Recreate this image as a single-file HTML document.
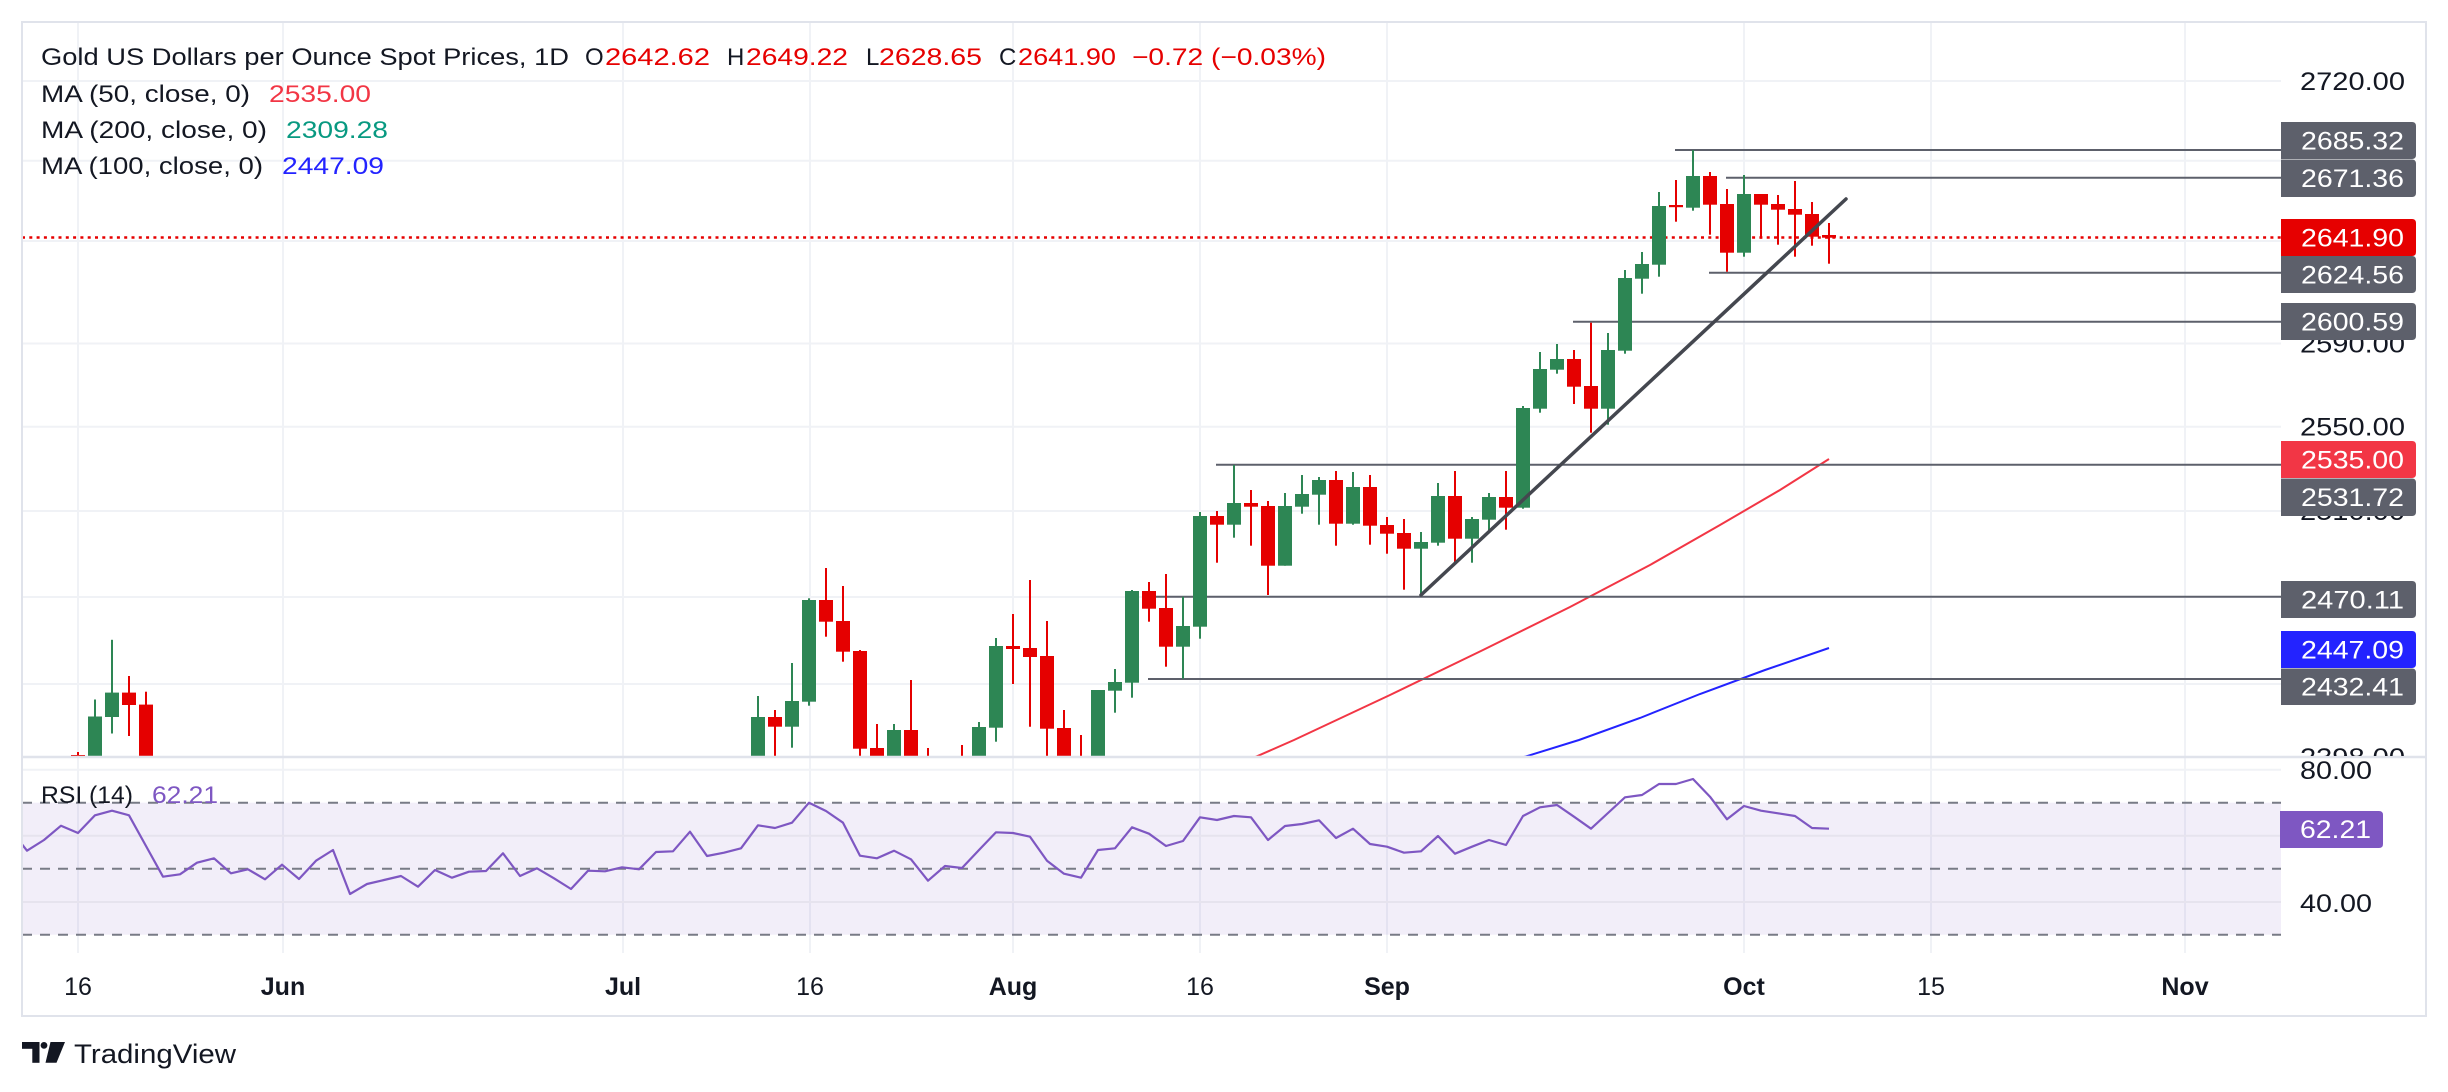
<!DOCTYPE html>
<html>
<head>
<meta charset="utf-8">
<style>
  html,body{margin:0;padding:0;background:#ffffff;}
  svg{display:block;}
  text{font-family:"Liberation Sans", Arial, sans-serif;}
</style>
</head>
<body>
<svg width="2448" height="1092" viewBox="0 0 2448 1092" xmlns="http://www.w3.org/2000/svg">
  <defs>
    <clipPath id="pricePane"><rect x="22" y="22" width="2259" height="735"/></clipPath>
    <clipPath id="rsiPane"><rect x="22" y="758" width="2259" height="195"/></clipPath>
    <clipPath id="axisTop"><rect x="2281" y="22" width="145" height="734"/></clipPath>
  </defs>
  <rect x="0" y="0" width="2448" height="1092" fill="#ffffff"/>

  <!-- vertical grid -->
  <g stroke="#f0f2f6" stroke-width="2">
    <line x1="78" y1="22" x2="78" y2="953"/>
    <line x1="283" y1="22" x2="283" y2="953"/>
    <line x1="623" y1="22" x2="623" y2="953"/>
    <line x1="810" y1="22" x2="810" y2="953"/>
    <line x1="1013" y1="22" x2="1013" y2="953"/>
    <line x1="1200" y1="22" x2="1200" y2="953"/>
    <line x1="1387" y1="22" x2="1387" y2="953"/>
    <line x1="1744" y1="22" x2="1744" y2="953"/>
    <line x1="1931" y1="22" x2="1931" y2="953"/>
    <line x1="2185" y1="22" x2="2185" y2="953"/>
  </g>
  <!-- horizontal grid price -->
  <g stroke="#f0f2f6" stroke-width="2">
    <line x1="22" y1="81" x2="2281" y2="81"/>
    <line x1="22" y1="160.7" x2="2281" y2="160.7"/>
    <line x1="22" y1="241" x2="2281" y2="241"/>
    <line x1="22" y1="343.5" x2="2281" y2="343.5"/>
    <line x1="22" y1="426.7" x2="2281" y2="426.7"/>
    <line x1="22" y1="511" x2="2281" y2="511"/>
    <line x1="22" y1="597" x2="2281" y2="597"/>
    <line x1="22" y1="684" x2="2281" y2="684"/>
  </g>

  <!-- RSI pane background band -->
  <rect x="22" y="802.7" width="2259" height="132" fill="#7e57c2" fill-opacity="0.1"/>
  <g stroke="#e6e3ee" stroke-width="2">
    <line x1="22" y1="769.7" x2="2281" y2="769.7" stroke="#f0f2f6"/>
    <line x1="22" y1="835.7" x2="2281" y2="835.7"/>
    <line x1="22" y1="902" x2="2281" y2="902"/>
  </g>
  <g stroke="#787b86" stroke-width="2" stroke-dasharray="10 8">
    <line x1="22" y1="802.7" x2="2281" y2="802.7"/>
    <line x1="22" y1="868.7" x2="2281" y2="868.7"/>
    <line x1="22" y1="934.7" x2="2281" y2="934.7"/>
  </g>

  <!-- PRICE PANE CONTENT -->
  <g clip-path="url(#pricePane)">
    <!-- dotted last price line -->
    <line x1="22" y1="237.5" x2="2281" y2="237.5" stroke="#e60000" stroke-width="2.5" stroke-dasharray="3 4.3"/>

    <!-- MA100 -->
    <polyline fill="none" stroke="#2323ff" stroke-width="2" points="1510,762 1524,757 1579,740 1640,718 1700,694 1765,670 1829,648"/>
    <!-- MA50 -->
    <polyline fill="none" stroke="#f23645" stroke-width="2" points="1240,764 1253,758 1294,740 1390,695 1483,650 1570,607 1650,565 1720,525 1780,490 1829,459"/>

    <!-- horizontal levels -->
    <g stroke="#5d606b" stroke-width="2">
      <line x1="1675" y1="150" x2="2281" y2="150"/>
      <line x1="1726" y1="177.7" x2="2281" y2="177.7"/>
      <line x1="1709" y1="272.7" x2="2281" y2="272.7"/>
      <line x1="1573" y1="321.7" x2="2281" y2="321.7"/>
      <line x1="1216" y1="464.7" x2="2281" y2="464.7"/>
      <line x1="1156" y1="596.7" x2="2281" y2="596.7"/>
      <line x1="1148" y1="679" x2="2281" y2="679"/>
    </g>

    <!-- green candles -->
    <g fill="#2d8654" stroke="#2d8654" stroke-width="2">
      <line x1="95" y1="699.5" x2="95" y2="800"/><rect x="88" y="716.5" width="14" height="83.5" stroke="none"/>
      <line x1="112" y1="639.8" x2="112" y2="733.5"/><rect x="105" y="692.6" width="14" height="24.4" stroke="none"/>
      <line x1="758" y1="696" x2="758" y2="800"/><rect x="751" y="717" width="14" height="83" stroke="none"/>
      <line x1="792" y1="663" x2="792" y2="747.7"/><rect x="785" y="701" width="14" height="25.7" stroke="none"/>
      <line x1="809" y1="598.3" x2="809" y2="705.7"/><rect x="802" y="600" width="14" height="101.7" stroke="none"/>
      <line x1="894" y1="724" x2="894" y2="800"/><rect x="887" y="730" width="14" height="70" stroke="none"/>
      <line x1="979" y1="722" x2="979" y2="800"/><rect x="972" y="727" width="14" height="73" stroke="none"/>
      <line x1="996" y1="638" x2="996" y2="741.7"/><rect x="989" y="646" width="14" height="81.7" stroke="none"/>
      <line x1="1098" y1="690" x2="1098" y2="800"/><rect x="1091" y="690" width="14" height="110" stroke="none"/>
      <line x1="1115" y1="669" x2="1115" y2="712.7"/><rect x="1108" y="682" width="14" height="8.7" stroke="none"/>
      <line x1="1132" y1="590" x2="1132" y2="697.7"/><rect x="1125" y="591" width="14" height="91.7" stroke="none"/>
      <line x1="1183" y1="596.7" x2="1183" y2="678.7"/><rect x="1176" y="626" width="14" height="20.7" stroke="none"/>
      <line x1="1200" y1="512" x2="1200" y2="638.7"/><rect x="1193" y="516" width="14" height="110.7" stroke="none"/>
      <line x1="1234" y1="465" x2="1234" y2="537.7"/><rect x="1227" y="503" width="14" height="21.7" stroke="none"/>
      <line x1="1285" y1="493" x2="1285" y2="565.7"/><rect x="1278" y="506" width="14" height="59.7" stroke="none"/>
      <line x1="1302" y1="475" x2="1302" y2="513.7"/><rect x="1295" y="494" width="14" height="12.7" stroke="none"/>
      <line x1="1319" y1="477" x2="1319" y2="524.7"/><rect x="1312" y="480" width="14" height="14.7" stroke="none"/>
      <line x1="1353" y1="472" x2="1353" y2="524.7"/><rect x="1346" y="487" width="14" height="36.7" stroke="none"/>
      <line x1="1421" y1="532" x2="1421" y2="595"/><rect x="1414" y="542" width="14" height="6.7" stroke="none"/>
      <line x1="1438" y1="483" x2="1438" y2="545.7"/><rect x="1431" y="496" width="14" height="46.7" stroke="none"/>
      <line x1="1472" y1="517" x2="1472" y2="562.7"/><rect x="1465" y="519" width="14" height="19.7" stroke="none"/>
      <line x1="1489" y1="493" x2="1489" y2="531.7"/><rect x="1482" y="497" width="14" height="22.7" stroke="none"/>
      <line x1="1523" y1="406" x2="1523" y2="508.7"/><rect x="1516" y="408" width="14" height="99.7" stroke="none"/>
      <line x1="1540" y1="352" x2="1540" y2="412.7"/><rect x="1533" y="369" width="14" height="39.7" stroke="none"/>
      <line x1="1557" y1="344" x2="1557" y2="373.7"/><rect x="1550" y="359" width="14" height="10.7" stroke="none"/>
      <line x1="1608" y1="333" x2="1608" y2="424.7"/><rect x="1601" y="350" width="14" height="58.7" stroke="none"/>
      <line x1="1625" y1="270" x2="1625" y2="353.7"/><rect x="1618" y="278" width="14" height="72.7" stroke="none"/>
      <line x1="1642" y1="252" x2="1642" y2="293.7"/><rect x="1635" y="264" width="14" height="14.7" stroke="none"/>
      <line x1="1659" y1="192" x2="1659" y2="276.7"/><rect x="1652" y="206" width="14" height="58.7" stroke="none"/>
      <line x1="1693" y1="150" x2="1693" y2="210.7"/><rect x="1686" y="176" width="14" height="31.7" stroke="none"/>
      <line x1="1744" y1="175" x2="1744" y2="256.7"/><rect x="1737" y="194" width="14" height="58.7" stroke="none"/>
    </g>

    <!-- red candles -->
    <g fill="#e50000" stroke="#e50000" stroke-width="2">
      <line x1="78" y1="752" x2="78" y2="800"/><rect x="71" y="755" width="14" height="45" stroke="none"/>
      <line x1="129" y1="676" x2="129" y2="736"/><rect x="122" y="692.6" width="14" height="12.4" stroke="none"/>
      <line x1="146" y1="691.7" x2="146" y2="800"/><rect x="139" y="704.6" width="14" height="95.4" stroke="none"/>
      <line x1="775" y1="710" x2="775" y2="800"/><rect x="768" y="717" width="14" height="9.7" stroke="none"/>
      <line x1="826" y1="568" x2="826" y2="636.7"/><rect x="819" y="600" width="14" height="21.7" stroke="none"/>
      <line x1="843" y1="586" x2="843" y2="661.7"/><rect x="836" y="621" width="14" height="30.7" stroke="none"/>
      <line x1="860" y1="650" x2="860" y2="800"/><rect x="853" y="651" width="14" height="97.7" stroke="none"/>
      <line x1="877" y1="724" x2="877" y2="800"/><rect x="870" y="748" width="14" height="52" stroke="none"/>
      <line x1="911" y1="680" x2="911" y2="800"/><rect x="904" y="730" width="14" height="70" stroke="none"/>
      <line x1="928" y1="748" x2="928" y2="800"/><rect x="921" y="757" width="14" height="43" stroke="none"/>
      <line x1="962" y1="745" x2="962" y2="800"/><rect x="955" y="760" width="14" height="40" stroke="none"/>
      <line x1="1013" y1="614" x2="1013" y2="684"/><rect x="1006" y="646" width="14" height="3" stroke="none"/>
      <line x1="1030" y1="580" x2="1030" y2="726.7"/><rect x="1023" y="648" width="14" height="9" stroke="none"/>
      <line x1="1047" y1="621" x2="1047" y2="800"/><rect x="1040" y="656" width="14" height="72.7" stroke="none"/>
      <line x1="1064" y1="710" x2="1064" y2="800"/><rect x="1057" y="728" width="14" height="72" stroke="none"/>
      <line x1="1081" y1="735" x2="1081" y2="800"/><rect x="1074" y="760" width="14" height="40" stroke="none"/>
      <line x1="1149" y1="582" x2="1149" y2="621.7"/><rect x="1142" y="591" width="14" height="17.7" stroke="none"/>
      <line x1="1166" y1="574" x2="1166" y2="666.7"/><rect x="1159" y="608" width="14" height="38.7" stroke="none"/>
      <line x1="1217" y1="511" x2="1217" y2="562.7"/><rect x="1210" y="516" width="14" height="8.7" stroke="none"/>
      <line x1="1251" y1="490" x2="1251" y2="545.7"/><rect x="1244" y="503" width="14" height="3.7" stroke="none"/>
      <line x1="1268" y1="501" x2="1268" y2="595"/><rect x="1261" y="506" width="14" height="59.7" stroke="none"/>
      <line x1="1336" y1="471" x2="1336" y2="545.7"/><rect x="1329" y="480" width="14" height="43.7" stroke="none"/>
      <line x1="1370" y1="475" x2="1370" y2="544.7"/><rect x="1363" y="487" width="14" height="38.7" stroke="none"/>
      <line x1="1387" y1="517" x2="1387" y2="553.7"/><rect x="1380" y="525" width="14" height="8.7" stroke="none"/>
      <line x1="1404" y1="519" x2="1404" y2="589.7"/><rect x="1397" y="533" width="14" height="15.7" stroke="none"/>
      <line x1="1455" y1="471" x2="1455" y2="562.7"/><rect x="1448" y="496" width="14" height="42.7" stroke="none"/>
      <line x1="1506" y1="471" x2="1506" y2="529.7"/><rect x="1499" y="497" width="14" height="10.7" stroke="none"/>
      <line x1="1574" y1="350" x2="1574" y2="404"/><rect x="1567" y="359" width="14" height="27.7" stroke="none"/>
      <line x1="1591" y1="322.7" x2="1591" y2="432.7"/><rect x="1584" y="386" width="14" height="22.7" stroke="none"/>
      <line x1="1676" y1="180" x2="1676" y2="221.7"/><rect x="1669" y="205" width="14" height="2.2" stroke="none"/>
      <line x1="1710" y1="172" x2="1710" y2="234.7"/><rect x="1703" y="176" width="14" height="28.7" stroke="none"/>
      <line x1="1727" y1="189" x2="1727" y2="271.7"/><rect x="1720" y="204" width="14" height="48.7" stroke="none"/>
      <line x1="1761" y1="194" x2="1761" y2="238.7"/><rect x="1754" y="194" width="14" height="10.7" stroke="none"/>
      <line x1="1778" y1="195" x2="1778" y2="244.7"/><rect x="1771" y="204" width="14" height="5.7" stroke="none"/>
      <line x1="1795" y1="181" x2="1795" y2="256.7"/><rect x="1788" y="209" width="14" height="5.7" stroke="none"/>
      <line x1="1812" y1="202" x2="1812" y2="245.7"/><rect x="1805" y="214" width="14" height="22.7" stroke="none"/>
      <line x1="1829" y1="223" x2="1829" y2="263.7"/><rect x="1822" y="235" width="14" height="2.7" stroke="none"/>
    </g>

    <!-- trendline -->
    <line x1="1421" y1="595" x2="1846" y2="199" stroke="#44474f" stroke-width="3.5" stroke-linecap="round"/>
  </g>

  <!-- RSI line -->
  <g clip-path="url(#rsiPane)">
    <polyline fill="none" stroke="#7e57c2" stroke-width="2.2" stroke-linejoin="round" points="10,829 27,850.7 44,840 61,825.7 78,833 95,815.3 112,810.7 129,815.3 146,846 163,876.7 180,874.3 197,862.7 214,858.3 231,873.3 248,869.3 265,879.3 282,864.7 299,879 316,860.7 333,850 350,894 367,884 384,880 401,876 418,886.7 435,870 452,877.7 469,871.7 486,871 503,853.3 520,876 537,868.3 554,878.3 571,889 588,870.7 605,871.3 622,867.3 639,869.3 656,852 673,851.3 690,831.7 707,856 724,852.7 741,848.3 758,825.3 775,828 792,822.7 809,802.7 826,811 843,822.7 860,855.7 877,858.3 894,850.7 911,859.3 928,880.7 945,866 962,868 979,850 996,832.3 1013,833 1030,836.7 1047,860.7 1064,873.7 1081,877.7 1098,850 1115,848.3 1132,827.3 1149,833.7 1166,846 1183,841 1200,817.3 1217,820 1234,816 1251,817.3 1268,840 1285,826 1302,824 1319,820.3 1336,838 1353,828.7 1370,844 1387,846.7 1404,852.7 1421,851.3 1438,836 1455,853.7 1472,846.7 1489,840 1506,845 1523,816 1540,807.3 1557,805 1574,816.7 1591,828.7 1608,813 1625,797.3 1642,795 1659,784 1676,784 1693,779 1710,796.7 1727,819.3 1744,806 1761,810.7 1778,813.3 1795,816 1812,828 1829,828.7"/>
  </g>

  <!-- pane separator and frame -->
  <line x1="22" y1="757" x2="2426" y2="757" stroke="#e0e3eb" stroke-width="2.5"/>
  <rect x="22" y="22" width="2404" height="994" fill="none" stroke="#e0e3eb" stroke-width="2"/>

  <!-- price axis tick labels -->
  <g fill="#131722" font-size="25">
    <text x="2300" y="90" textLength="105" lengthAdjust="spacingAndGlyphs">2720.00</text>
    <text x="2300" y="352.5" textLength="105" lengthAdjust="spacingAndGlyphs">2590.00</text>
    <text x="2300" y="435.7" textLength="105" lengthAdjust="spacingAndGlyphs">2550.00</text>
    <text x="2300" y="520" textLength="105" lengthAdjust="spacingAndGlyphs">2510.00</text>
    <g clip-path="url(#axisTop)">
      <text x="2300" y="766" textLength="105" lengthAdjust="spacingAndGlyphs">2398.00</text>
    </g>
    <text x="2300" y="779" textLength="72" lengthAdjust="spacingAndGlyphs">80.00</text>
    <text x="2300" y="912" textLength="72" lengthAdjust="spacingAndGlyphs">40.00</text>
  </g>

  <!-- price axis value labels -->
  <g font-size="25" fill="#ffffff">
    <path d="M2281 122 H2412 Q2416 122 2416 126 V155 Q2416 159 2412 159 H2281 Z" fill="#5d606b"/>
    <text x="2301" y="149.5" textLength="103" lengthAdjust="spacingAndGlyphs">2685.32</text>
    <path d="M2281 159.5 H2412 Q2416 159.5 2416 163.5 V193 Q2416 197 2412 197 H2281 Z" fill="#5d606b"/>
    <text x="2301" y="187" textLength="103" lengthAdjust="spacingAndGlyphs">2671.36</text>
    <path d="M2281 219 H2412 Q2416 219 2416 223 V252 Q2416 256 2412 256 H2281 Z" fill="#e60000"/>
    <text x="2301" y="246.5" textLength="103" lengthAdjust="spacingAndGlyphs">2641.90</text>
    <path d="M2281 256 H2412 Q2416 256 2416 260 V289 Q2416 293 2412 293 H2281 Z" fill="#5d606b"/>
    <text x="2301" y="283.5" textLength="103" lengthAdjust="spacingAndGlyphs">2624.56</text>
    <path d="M2281 303 H2412 Q2416 303 2416 307 V336 Q2416 340 2412 340 H2281 Z" fill="#5d606b"/>
    <text x="2301" y="330.5" textLength="103" lengthAdjust="spacingAndGlyphs">2600.59</text>
    <path d="M2281 441 H2412 Q2416 441 2416 445 V474 Q2416 478 2412 478 H2281 Z" fill="#f23645"/>
    <text x="2301" y="468.5" textLength="103" lengthAdjust="spacingAndGlyphs">2535.00</text>
    <path d="M2281 478.5 H2412 Q2416 478.5 2416 482.5 V512 Q2416 516 2412 516 H2281 Z" fill="#5d606b"/>
    <text x="2301" y="506" textLength="103" lengthAdjust="spacingAndGlyphs">2531.72</text>
    <path d="M2281 581 H2412 Q2416 581 2416 585 V614 Q2416 618 2412 618 H2281 Z" fill="#5d606b"/>
    <text x="2301" y="608.5" textLength="103" lengthAdjust="spacingAndGlyphs">2470.11</text>
    <path d="M2281 631 H2412 Q2416 631 2416 635 V664 Q2416 668 2412 668 H2281 Z" fill="#2323ff"/>
    <text x="2301" y="658.5" textLength="103" lengthAdjust="spacingAndGlyphs">2447.09</text>
    <path d="M2281 668.5 H2412 Q2416 668.5 2416 672.5 V701 Q2416 705 2412 705 H2281 Z" fill="#5d606b"/>
    <text x="2301" y="695.5" textLength="103" lengthAdjust="spacingAndGlyphs">2432.41</text>
    <path d="M2280 811 H2379 Q2383 811 2383 815 V844 Q2383 848 2379 848 H2280 Z" fill="#7e57c2"/>
    <text x="2300" y="838.2" textLength="71" lengthAdjust="spacingAndGlyphs">62.21</text>
  </g>

  <!-- time axis labels -->
  <g fill="#131722" font-size="25" text-anchor="middle">
    <text x="78" y="995">16</text>
    <text x="283" y="995" font-weight="bold">Jun</text>
    <text x="623" y="995" font-weight="bold">Jul</text>
    <text x="810" y="995">16</text>
    <text x="1013" y="995" font-weight="bold">Aug</text>
    <text x="1200" y="995">16</text>
    <text x="1387" y="995" font-weight="bold">Sep</text>
    <text x="1744" y="995" font-weight="bold">Oct</text>
    <text x="1931" y="995">15</text>
    <text x="2185" y="995" font-weight="bold">Nov</text>
  </g>

  <!-- legend -->
  <g font-size="24">
    <text x="41" y="65" fill="#131722" textLength="528" lengthAdjust="spacingAndGlyphs">Gold US Dollars per Ounce Spot Prices, 1D</text>
    <text x="585" y="65" fill="#131722">O</text>
    <text x="605" y="65" fill="#e60000" textLength="105" lengthAdjust="spacingAndGlyphs">2642.62</text>
    <text x="727" y="65" fill="#131722">H</text>
    <text x="746" y="65" fill="#e60000" textLength="102" lengthAdjust="spacingAndGlyphs">2649.22</text>
    <text x="866" y="65" fill="#131722">L</text>
    <text x="879" y="65" fill="#e60000" textLength="103" lengthAdjust="spacingAndGlyphs">2628.65</text>
    <text x="999" y="65" fill="#131722">C</text>
    <text x="1018" y="65" fill="#e60000" textLength="98" lengthAdjust="spacingAndGlyphs">2641.90</text>
    <text x="1132" y="65" fill="#e60000" textLength="194" lengthAdjust="spacingAndGlyphs">−0.72 (−0.03%)</text>

    <text x="41" y="102" fill="#131722" textLength="209" lengthAdjust="spacingAndGlyphs">MA (50, close, 0)</text>
    <text x="269" y="102" fill="#f23645" textLength="102" lengthAdjust="spacingAndGlyphs">2535.00</text>
    <text x="41" y="138" fill="#131722" textLength="226" lengthAdjust="spacingAndGlyphs">MA (200, close, 0)</text>
    <text x="286" y="138" fill="#089981" textLength="102" lengthAdjust="spacingAndGlyphs">2309.28</text>
    <text x="41" y="174" fill="#131722" textLength="222" lengthAdjust="spacingAndGlyphs">MA (100, close, 0)</text>
    <text x="282" y="174" fill="#2323ff" textLength="102" lengthAdjust="spacingAndGlyphs">2447.09</text>

    <text x="41" y="803" fill="#131722" textLength="92" lengthAdjust="spacingAndGlyphs">RSI (14)</text>
    <text x="152" y="803" fill="#7e57c2" textLength="66" lengthAdjust="spacingAndGlyphs">62.21</text>
  </g>

  <!-- TradingView logo -->
  <g fill="#131722">
    <rect x="22" y="1042" width="17.5" height="6.8"/>
    <rect x="32.3" y="1042" width="7.2" height="20.8"/>
    <circle cx="44" cy="1045.4" r="3.4"/>
    <polygon points="50.5,1042 65,1042 56.5,1062.8 45.5,1062.8"/>
    <text x="74" y="1063" font-size="27" textLength="162" lengthAdjust="spacingAndGlyphs">TradingView</text>
  </g>
</svg>
</body>
</html>
